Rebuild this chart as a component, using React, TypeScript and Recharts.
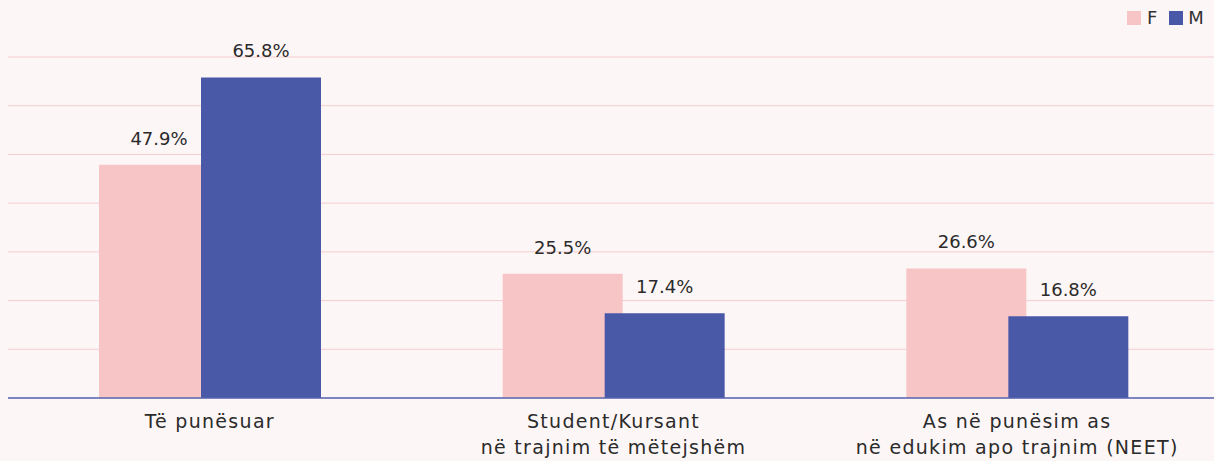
import { Bar, BarChart, CartesianGrid, LabelList, XAxis, YAxis } from "recharts";

const categories = [
  ["Të punësuar"],
  ["Student/Kursant", "në trajnim të mëtejshëm"],
  ["As në punësim as", "në edukim apo trajnim (NEET)"],
];
const femaleValues = [47.9, 25.5, 26.6];
const maleValues = [65.8, 17.4, 16.8];
const yTicks = [0, 10, 20, 30, 40, 50, 60, 70];

const data = categories.map((lines, i) => ({
  name: lines.join("\n"),
  F: femaleValues[i],
  M: maleValues[i],
}));

const PINK = "#f8c5c7";
const BLUE = "#4a58a8";
const TEXT = "#2b2b2b";
const FONT = "'DejaVu Sans', sans-serif";

const CategoryTick = (props: any) => {
  const { x, y, payload } = props;
  const lines = String(payload.value).split("\n");
  return (
    <g transform={`translate(${x},${y})`}>
      {lines.map((line, i) => (
        <text
          key={i}
          x={0}
          y={22 + i * 26}
          textAnchor="middle"
          fill={TEXT}
          fontSize={19}
          letterSpacing={1.3}
          fontFamily={FONT}
        >
          {line}
        </text>
      ))}
    </g>
  );
};

const LegendBox = () => (
  <div
    style={{
      position: "absolute",
      top: 8,
      left: 1127,
      display: "flex",
      alignItems: "center",
      fontFamily: FONT,
      fontSize: 18,
      color: "#333",
      lineHeight: "20px",
    }}
  >
    <span style={{ width: 14, height: 14, background: PINK, display: "inline-block", marginRight: 6 }} />
    <span style={{ marginRight: 12 }}>F</span>
    <span style={{ width: 14, height: 14, background: BLUE, display: "inline-block", marginRight: 5 }} />
    <span>M</span>
  </div>
);

const fmt = (v: any) => `${Number(v).toFixed(1)}%`;

export default function App() {
  return (
    <div style={{ position: "absolute", left: 0, top: 0, width: 1214, height: 461, overflow: "hidden", background: "#fdf6f6" }}>
      <BarChart
        width={1219}
        height={461}
        data={data}
        margin={{ top: 57, right: 0, left: 8, bottom: 0 }}
        barSize={120}
        barGap={-18}
      >
        <CartesianGrid horizontal vertical={false} stroke="#f5cdd0" strokeWidth={1} />
        <YAxis hide domain={[0, 70]} ticks={yTicks} />
        <XAxis
          dataKey="name"
          height={63}
          tickLine={false}
          axisLine={{ stroke: "#5564b0", strokeWidth: 1.5 }}
          tick={<CategoryTick />}
          interval={0}
        />
        <Bar dataKey="F" fill={PINK} isAnimationActive={false}>
          <LabelList dataKey="F" position="top" offset={20} formatter={fmt} fill={TEXT} fontSize={18} fontFamily={FONT} />
        </Bar>
        <Bar dataKey="M" fill={BLUE} isAnimationActive={false}>
          <LabelList dataKey="M" position="top" offset={20} formatter={fmt} fill={TEXT} fontSize={18} fontFamily={FONT} />
        </Bar>
      </BarChart>
      <LegendBox />
    </div>
  );
}
